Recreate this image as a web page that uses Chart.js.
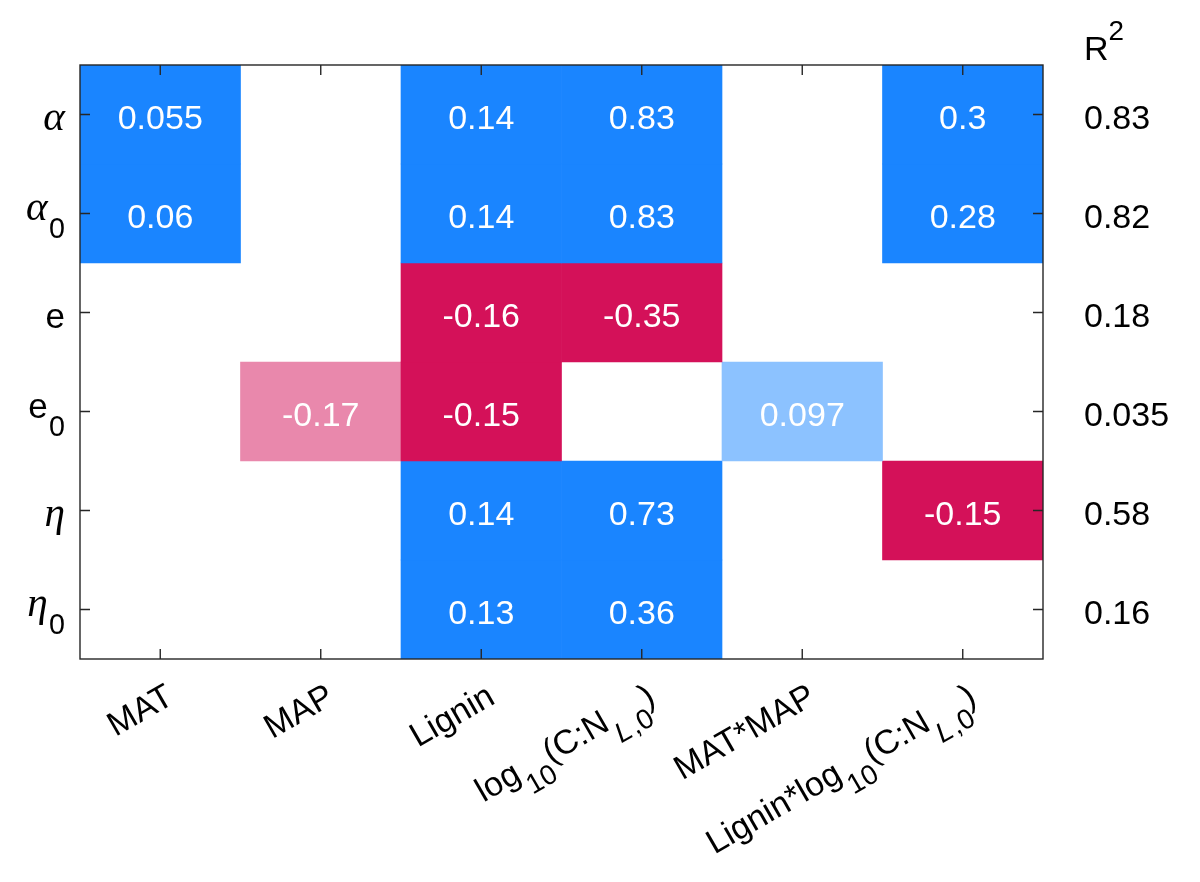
<!DOCTYPE html>
<html>
<head>
<meta charset="utf-8">
<title>Coefficient heatmap</title>
<script src="https://cdn.jsdelivr.net/npm/chart.js@4.4.0/dist/chart.umd.min.js"></script>
<style>
  html, body { margin: 0; padding: 0; background: #fff; }
  #wrap { width: 1200px; height: 882px; }
</style>
</head>
<body>
<div id="wrap"><canvas id="coefChart" width="1200" height="882"></canvas></div>
<script>
// Predictors (x axis) and fitted parameters (y axis), TeX-like markup as in the original figure
const predictors = ['MAT', 'MAP', 'Lignin', 'log_{10}(C:N_{{\\it L},0})', 'MAT*MAP', 'Lignin*log_{10}(C:N_{{\\it L},0})'];
const parameters = ['\\alpha', '\\alpha_0', 'e', 'e_0', '\\eta', '\\eta_0'];

// Coefficients per parameter row (null = predictor not retained)
const coefAlpha  = [0.055, null, 0.14, 0.83, null, 0.3];
const coefAlpha0 = [0.06, null, 0.14, 0.83, null, 0.28];
const coefE      = [null, null, -0.16, -0.35, null, null];
const coefE0     = [null, -0.17, -0.15, null, 0.097, null];
const coefEta    = [null, null, 0.14, 0.73, null, -0.15];
const coefEta0   = [null, null, 0.13, 0.36, null, null];

// Cells that are only marginally significant ([row, column]) -> lighter shade
const weakCells = [[3, 1], [3, 4]];

// Model fit per parameter
const rSquared = ['0.83', '0.82', '0.18', '0.035', '0.58', '0.16'];

const coefRows = [coefAlpha, coefAlpha0, coefE, coefE0, coefEta, coefEta0];

const POS = '#1A85FF', POS_WEAK = '#8CC2FF';
const NEG = '#D41159', NEG_WEAK = '#E988AC';
const AXIS = '#262626';
const SANS = '"Liberation Sans", Arial, Helvetica, sans-serif';
const SERIF = '"Liberation Serif", "Times New Roman", serif';

function isWeak(r, c) {
    return weakCells.some(w => w[0] === r && w[1] === c);
}

function cellColor(v, r, c) {
    if (v === null) return 'rgba(0,0,0,0)';
    const weak = isWeak(r, c);
    if (v >= 0) return weak ? POS_WEAK : POS;
    return weak ? NEG_WEAK : NEG;
}

// ---- tiny TeX-ish parser: _{..} ^{..} {..} \it \alpha \eta ----
const GREEK = { alpha: 'α', eta: 'η' };

function parseTex(src) {
    const runs = [];
    let i = 0;
    function push(text, style) {
        const last = runs[runs.length - 1];
        if (last && last.shift === style.shift && last.italic === style.italic && last.greek === style.greek) {
            last.text += text;
        } else {
            runs.push({ text, shift: style.shift, italic: style.italic, greek: style.greek });
        }
    }
    function group(style) {
        const s = Object.assign({}, style);
        while (i < src.length) {
            const ch = src[i];
            if (ch === '}') { i++; return; }
            if (ch === '{') { i++; group(s); continue; }
            if (ch === '_' || ch === '^') {
                i++;
                const inner = Object.assign({}, s, { shift: ch === '_' ? 'sub' : 'sup' });
                if (src[i] === '{') { i++; group(inner); }
                else { push(src[i], inner); i++; }
                continue;
            }
            if (ch === '\\') {
                const m = /^\\([a-zA-Z]+) ?/.exec(src.slice(i));
                i += m[0].length;
                if (m[1] === 'it') s.italic = true;
                else if (GREEK[m[1]]) push(GREEK[m[1]], Object.assign({}, s, { greek: true }));
                continue;
            }
            push(ch, s);
            i++;
        }
    }
    group({ shift: null, italic: false, greek: false });
    return runs;
}

const SUB_SCALE = 0.82;
const GREEK_SCALE = 1.18;

function layoutRich(ctx, src, size) {
    const runs = parseTex(src);
    const items = [];
    let x = 0;
    let bottom = 0.21 * size;
    for (const r of runs) {
        let fs = r.shift ? size * SUB_SCALE : size;
        if (r.greek) fs *= GREEK_SCALE;
        const font = ((r.italic || r.greek) ? 'italic ' : '') + fs + 'px ' + (r.greek ? SERIF : SANS);
        ctx.font = font;
        const w = ctx.measureText(r.text).width;
        const dy = r.shift === 'sub' ? 0.52 * size : (r.shift === 'sup' ? -0.6 * size : 0);
        if (r.shift === 'sub' && x > 0) x += 0.04 * size;
        items.push({ text: r.text, font, x, dy });
        x += w;
        if (r.shift === 'sub') bottom = Math.max(bottom, dy + 0.21 * fs);
    }
    return { items, width: x, bottom };
}

// draw rich text; valign 'middle' (MATLAB-like extent middle) or 'top'
function drawRich(ctx, src, x, y, o) {
    const lay = layoutRich(ctx, src, o.size);
    let x0 = 0;
    if (o.align === 'right') x0 = -lay.width;
    else if (o.align === 'center') x0 = -lay.width / 2;
    let base = 0;
    if (o.valign === 'middle') base = -((-1.07 * o.size) + lay.bottom) / 2;
    else if (o.valign === 'top') base = 0.9 * o.size;
    ctx.save();
    ctx.translate(x, y);
    if (o.rotation) ctx.rotate(o.rotation);
    ctx.fillStyle = o.color;
    ctx.textBaseline = 'alphabetic';
    ctx.textAlign = 'left';
    for (const it of lay.items) {
        ctx.font = it.font;
        ctx.fillText(it.text, x0 + it.x, base + it.dy);
    }
    ctx.restore();
}

// ---- axes, ticks, labels and cell values drawn over the bars ----
const heatmapDecor = {
    id: 'heatmapDecor',
    afterDatasetsDraw(chart) {
        const ctx = chart.ctx;
        const a = chart.chartArea;
        const xs = chart.scales.x, ys = chart.scales.y;
        const tick = 10;

        // cell values
        coefRows.forEach((row, r) => {
            row.forEach((v, c) => {
                if (v === null) return;
                drawRich(ctx, String(v), xs.getPixelForValue(c), ys.getPixelForValue(r),
                    { size: 34, align: 'center', valign: 'middle', color: '#ffffff' });
            });
        });

        // box
        ctx.save();
        ctx.strokeStyle = AXIS;
        ctx.lineWidth = 1.4;
        ctx.strokeRect(a.left, a.top, a.right - a.left, a.bottom - a.top);

        // inward ticks
        ctx.beginPath();
        predictors.forEach((p, c) => {
            const px = xs.getPixelForValue(c);
            ctx.moveTo(px, a.bottom); ctx.lineTo(px, a.bottom - tick);
            ctx.moveTo(px, a.top); ctx.lineTo(px, a.top + tick);
        });
        parameters.forEach((p, r) => {
            const py = ys.getPixelForValue(r);
            ctx.moveTo(a.left, py); ctx.lineTo(a.left + tick, py);
            ctx.moveTo(a.right, py); ctx.lineTo(a.right - tick, py);
        });
        ctx.stroke();
        ctx.restore();

        // y tick labels
        parameters.forEach((p, r) => {
            drawRich(ctx, p, a.left - 15, ys.getPixelForValue(r),
                { size: 35, align: 'right', valign: 'middle', color: '#000000' });
        });

        // x tick labels, rotated 30 degrees
        predictors.forEach((p, c) => {
            drawRich(ctx, p, xs.getPixelForValue(c), a.bottom + 17,
                { size: 34, align: 'right', valign: 'top', rotation: -Math.PI / 6, color: '#000000' });
        });

        // R^2 column
        const rx = a.right + 41;
        drawRich(ctx, 'R^2', rx, a.top - 5, { size: 34, align: 'left', valign: null, color: '#000000' });
        rSquared.forEach((v, r) => {
            drawRich(ctx, v, rx, ys.getPixelForValue(r),
                { size: 34, align: 'left', valign: 'middle', color: '#000000' });
        });
    }
};

const heatmapData = {
    labels: predictors,
    datasets: coefRows.map((row, r) => ({
        label: parameters[r],
        data: row.map(v => (v === null ? null : [r - 0.5, r + 0.5])),
        backgroundColor: row.map((v, c) => cellColor(v, r, c)),
        borderWidth: 0,
        barPercentage: 1,
        categoryPercentage: 1
    }))
};

const heatmapConfig = {
    type: 'bar',
    data: heatmapData,
    options: {
        responsive: false,
        animation: false,
        layout: { padding: { left: 80, right: 157, top: 65, bottom: 223 } },
        plugins: {
            legend: { display: false },
            tooltip: { enabled: false }
        },
        scales: {
            x: { type: 'category', stacked: true, offset: true, display: false },
            y: { type: 'linear', stacked: false, min: -0.5, max: 5.5, reverse: true, display: false }
        }
    },
    plugins: [heatmapDecor]
};

new Chart(document.getElementById('coefChart').getContext('2d'), heatmapConfig);
</script>
</body>
</html>
